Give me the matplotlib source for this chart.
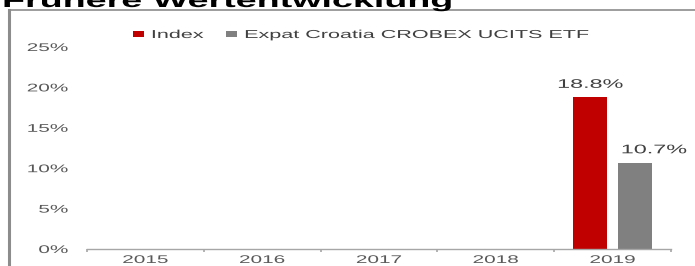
import numpy as np
import matplotlib
matplotlib.use("Agg")
import matplotlib.pyplot as plt
from matplotlib.lines import Line2D
from matplotlib.patheffects import AbstractPathEffect
from matplotlib.transforms import Affine2D

# ---- data ----
years = ["2015", "2016", "2017", "2018", "2019"]
index_vals = [np.nan, np.nan, np.nan, np.nan, 18.8]
etf_vals = [np.nan, np.nan, np.nan, np.nan, 10.7]
series_names = ["Index", "Expat Croatia CROBEX UCITS ETF"]
y_ticks = [0, 5, 10, 15, 20, 25]
y_labels = ["0%", "5%", "10%", "15%", "20%", "25%"]
title = "Frühere Wertentwicklung"

RED = "#c00000"
GREY = "#808080"
LABEL_GREY = "#595959"
TEXT_DARK = "#404040"
FRAME = "#8c8c8c"

# the reference is stretched sideways, glyphs are ~1.87x wider than normal
SX = 1.87


class Widen(AbstractPathEffect):
    """Stretch text glyphs horizontally around an anchor."""

    def __init__(self, sx=SX, anchor="center"):
        super().__init__()
        self.sx = sx
        self.anchor = anchor

    def draw_path(self, renderer, gc, tpath, affine, rgbFace=None):
        ext = tpath.get_extents()
        if self.anchor == "left":
            x0 = 0
        elif self.anchor == "right":
            x0 = ext.x1
        else:
            x0 = (ext.x0 + ext.x1) / 2
        stretch = Affine2D().translate(-x0, 0).scale(self.sx, 1).translate(x0, 0)
        renderer.draw_path(gc, tpath, stretch + affine, rgbFace)


plt.rcParams["font.family"] = ["Liberation Sans", "DejaVu Sans"]

W, H = 695, 266
fig = plt.figure(figsize=(W / 100, H / 100), dpi=100)

# frame round the block (top and left edge only visible)
fig.add_artist(Line2D([9 / W, 1], [1 - 10 / H, 1 - 10 / H], color=FRAME, lw=1.2))
fig.add_artist(Line2D([9 / W, 9 / W], [0, 1 - 10 / H], color=FRAME, lw=2.2))

# title, cut off at the top like in the source
fig.text(2 / W, 1 - 7 / H, title, fontsize=14.5, fontweight="bold", color="black",
         ha="left", va="baseline", path_effects=[Widen(anchor="left")])

ax = fig.add_axes([87 / W, 17 / H, 584 / W, 202 / H])

x = np.arange(len(years))
bw = 0.29
off = 0.19
b1 = ax.bar(x - off, index_vals, bw, color=RED, label=series_names[0])
b2 = ax.bar(x + off, etf_vals, bw, color=GREY, label=series_names[1])

# value labels (the ETF one sits a bit to the right in the source)
for bars, vals, dx in [(b1, index_vals, 0), (b2, etf_vals, 14)]:
    for rect, v in zip(bars, vals):
        if np.isnan(v):
            continue
        ax.annotate(f"{v:.1f}%", xy=(rect.get_x() + rect.get_width() / 2, v),
                    xytext=(dx, 4.5), textcoords="offset points",
                    ha="center", va="bottom", fontsize=9, color=TEXT_DARK,
                    path_effects=[Widen()])

ax.set_xlim(-0.5, len(years) - 0.5)
ax.set_ylim(0, 25)

ax.set_yticks(y_ticks)
ax.set_yticklabels(y_labels)
ax.set_xticks(x)
ax.set_xticklabels(years)
ax.set_xticks(np.arange(len(years) + 1) - 0.5, minor=True)

ax.tick_params(axis="y", length=0, pad=13.7, labelsize=8, labelcolor=LABEL_GREY)
ax.tick_params(axis="x", which="major", length=0, pad=4.3, labelsize=8,
               labelcolor=LABEL_GREY)
ax.tick_params(axis="x", which="minor", length=2.5, width=1.2, color="#a6a6a6",
               direction="out")
for t in ax.get_yticklabels():
    t.set_path_effects([Widen(anchor="right")])
for t in ax.get_xticklabels():
    t.set_path_effects([Widen()])

for s in ["left", "right", "top"]:
    ax.spines[s].set_visible(False)
ax.spines["bottom"].set_color("#a6a6a6")
ax.spines["bottom"].set_linewidth(1)

leg = ax.legend(loc="center left", bbox_to_anchor=(133 / W, 1 - 35 / H),
                bbox_transform=fig.transFigure, ncol=2, frameon=False,
                fontsize=8.3, borderpad=0, borderaxespad=0,
                handlelength=0.95, handleheight=0.4, handletextpad=0.6,
                columnspacing=4.1)
for t in leg.get_texts():
    t.set_color(TEXT_DARK)
    t.set_path_effects([Widen(anchor="left")])

fig.savefig("out.png", dpi=100)
